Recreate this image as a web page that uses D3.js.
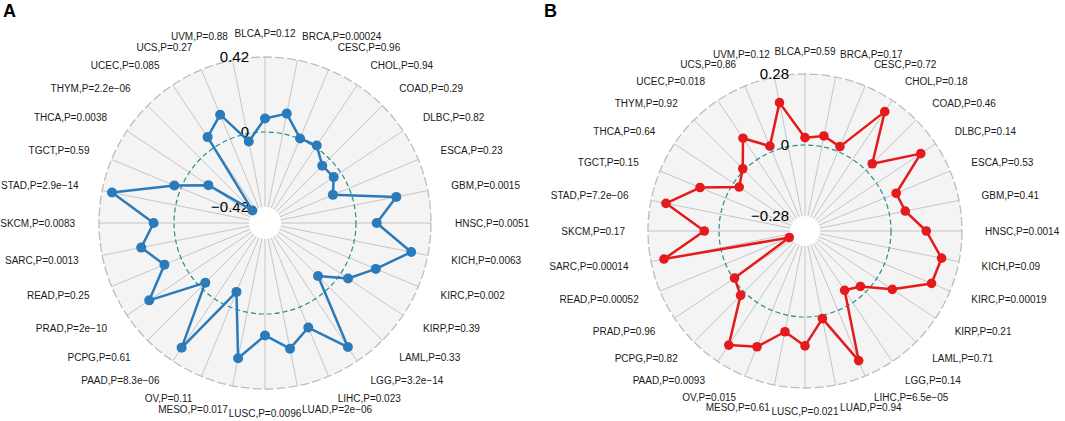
<!DOCTYPE html>
<html>
<head>
<meta charset="utf-8">
<script src="https://cdn.jsdelivr.net/npm/d3@7"></script>
<style>
  body { margin: 0; background: #fff; }
</style>
</head>
<body>
<div id="chart"></div>
<script>
const cancers = ["BLCA", "BRCA", "CESC", "CHOL", "COAD", "DLBC", "ESCA", "GBM",
  "HNSC", "KICH", "KIRC", "KIRP", "LAML", "LGG", "LIHC", "LUAD",
  "LUSC", "MESO", "OV", "PAAD", "PCPG", "PRAD", "READ", "SARC",
  "SKCM", "STAD", "TGCT", "THCA", "THYM", "UCEC", "UCS", "UVM"];

// panel A
const pvalsA = ["0.12", "0.00024", "0.96", "0.94", "0.29", "0.82", "0.23", "0.0015",
  "0.0051", "0.0063", "0.002", "0.39", "0.33", "3.2e\u221214", "0.023", "2e\u221206",
  "0.0096", "0.017", "0.11", "8.3e\u221206", "0.61", "2e\u221210", "0.25", "0.0013",
  "0.0083", "2.9e\u221214", "0.59", "0.0038", "2.2e\u221206", "0.085", "0.27", "0.88"];
const valuesA = [0.076, 0.115, 0.003, 0.012, -0.056, -0.047, -0.098, 0.24,
  0.116, 0.325, 0.162, 0.05, -0.09, 0.326, 0.124, 0.208,
  0.12, 0.263, -0.092, 0.331, -0.037, 0.27, 0.10, 0.197,
  0.114, 0.364, 0.04, -0.128, -0.41, 0.069, 0.147, -0.044];
const ticksA = [-0.42, 0, 0.42];

// panel B
const pvalsB = ["0.59", "0.17", "0.72", "0.18", "0.46", "0.14", "0.53", "0.41",
  "0.0014", "0.09", "0.00019", "0.21", "0.71", "0.14", "6.5e\u221205", "0.94",
  "0.021", "0.61", "0.015", "0.0093", "0.82", "0.96", "0.00052", "0.00014",
  "0.17", "7.2e\u221206", "0.15", "0.64", "0.92", "0.018", "0.86", "0.12"];
const valuesB = [0.029, 0.043, 0.021, 0.227, 0.036, 0.21, 0.05, 0.064,
  0.139, 0.21, 0.201, 0.075, -0.03, -0.058, 0.214, 0.013,
  0.114, 0.066, 0.155, 0.202, 0.02, -0.005, -0.272, 0.228,
  0.058, 0.22, 0.109, -0.027, 0.008, 0.101, 0.023, 0.177];
const ticksB = [-0.28, 0, 0.28];

const width = 1065, height = 421;
const font = "'Liberation Sans', Arial, sans-serif";

const svg = d3.select("#chart")
  .append("svg")
  .attr("width", width)
  .attr("height", height);

function radar(opts) {
  const n = cancers.length;
  const g = svg.append("g")
    .attr("transform", `translate(${opts.cx}, ${opts.cy})`);

  const rScale = d3.scaleLinear()
    .domain([opts.ticks[0], opts.ticks[2]])
    .range([opts.r0, opts.r1]);

  const angle = d3.scaleLinear()
    .domain([0, n])
    .range([0, 2 * Math.PI]);

  const rOut = rScale(opts.ticks[2]);

  g.append("circle")
    .attr("r", rOut)
    .attr("fill", "#f4f4f4");

  g.append("circle")
    .attr("r", opts.r0)
    .attr("fill", "#fff");

  g.selectAll(".spoke")
    .data(cancers)
    .enter()
    .append("line")
    .attr("x1", (d, i) => opts.r0 * Math.sin(angle(i)))
    .attr("y1", (d, i) => -opts.r0 * Math.cos(angle(i)))
    .attr("x2", (d, i) => rOut * Math.sin(angle(i)))
    .attr("y2", (d, i) => -rOut * Math.cos(angle(i)))
    .attr("stroke", "#c6c6c6")
    .attr("stroke-width", 1);

  g.append("circle")
    .attr("r", rOut)
    .attr("fill", "none")
    .attr("stroke", "#bdbdbd")
    .attr("stroke-width", 1.3)
    .attr("stroke-dasharray", "9 3");

  g.append("circle")
    .attr("r", rScale(0))
    .attr("fill", "none")
    .attr("stroke", "#2a8c8c")
    .attr("stroke-width", 1.2)
    .attr("stroke-dasharray", "5 3");

  // grid labels
  g.selectAll(".tick")
    .data(opts.ticks)
    .enter()
    .append("text")
    .attr("x", -16)
    .attr("y", d => -rScale(d))
    .attr("dy", "0.35em")
    .attr("text-anchor", "end")
    .text(d => d === 0 ? "0" : d3.format(".2f")(d))
    .style("font-family", font)
    .style("font-size", "15px")
    .attr("fill", "#000");

  const line = d3.lineRadial()
    .angle((d, i) => angle(i))
    .radius(d => rScale(d))
    .curve(d3.curveLinearClosed);

  g.append("path")
    .datum(opts.values)
    .attr("d", line)
    .attr("fill", "none")
    .attr("stroke", opts.color)
    .attr("stroke-width", 2.5)
    .attr("stroke-linejoin", "round");

  g.selectAll(".dot")
    .data(opts.values)
    .enter()
    .append("circle")
    .attr("cx", (d, i) => rScale(d) * Math.sin(angle(i)))
    .attr("cy", (d, i) => -rScale(d) * Math.cos(angle(i)))
    .attr("r", opts.dotR)
    .attr("fill", opts.color);

  // cancer labels
  g.selectAll(".lab")
    .data(cancers)
    .enter()
    .append("text")
    .attr("x", (d, i) => opts.labelR * Math.sin(angle(i)))
    .attr("y", (d, i) => -opts.labelR * Math.cos(angle(i)))
    .attr("dy", "0.35em")
    .attr("text-anchor", (d, i) => i === 0 || i === n / 2 ? "middle" : (i < n / 2 ? "start" : "end"))
    .text((d, i) => `${d},P=${opts.pvals[i]}`)
    .style("font-family", font)
    .style("font-size", "10px")
    .attr("fill", "#1a1a1a");

  svg.append("text")
    .attr("x", opts.titleX)
    .attr("y", 17)
    .text(opts.title)
    .style("font-family", font)
    .style("font-size", "18px")
    .style("font-weight", "bold");
}

radar({ cx: 265, cy: 223, r0: 16, r1: 166, labelR: 190, ticks: ticksA,
  values: valuesA, pvals: pvalsA, color: "#2b7bba", dotR: 5, title: "A", titleX: 3 });

radar({ cx: 805, cy: 231, r0: 15, r1: 157, labelR: 180, ticks: ticksB,
  values: valuesB, pvals: pvalsB, color: "#e41a1c", dotR: 4.8, title: "B", titleX: 544 });
</script>
</body>
</html>
